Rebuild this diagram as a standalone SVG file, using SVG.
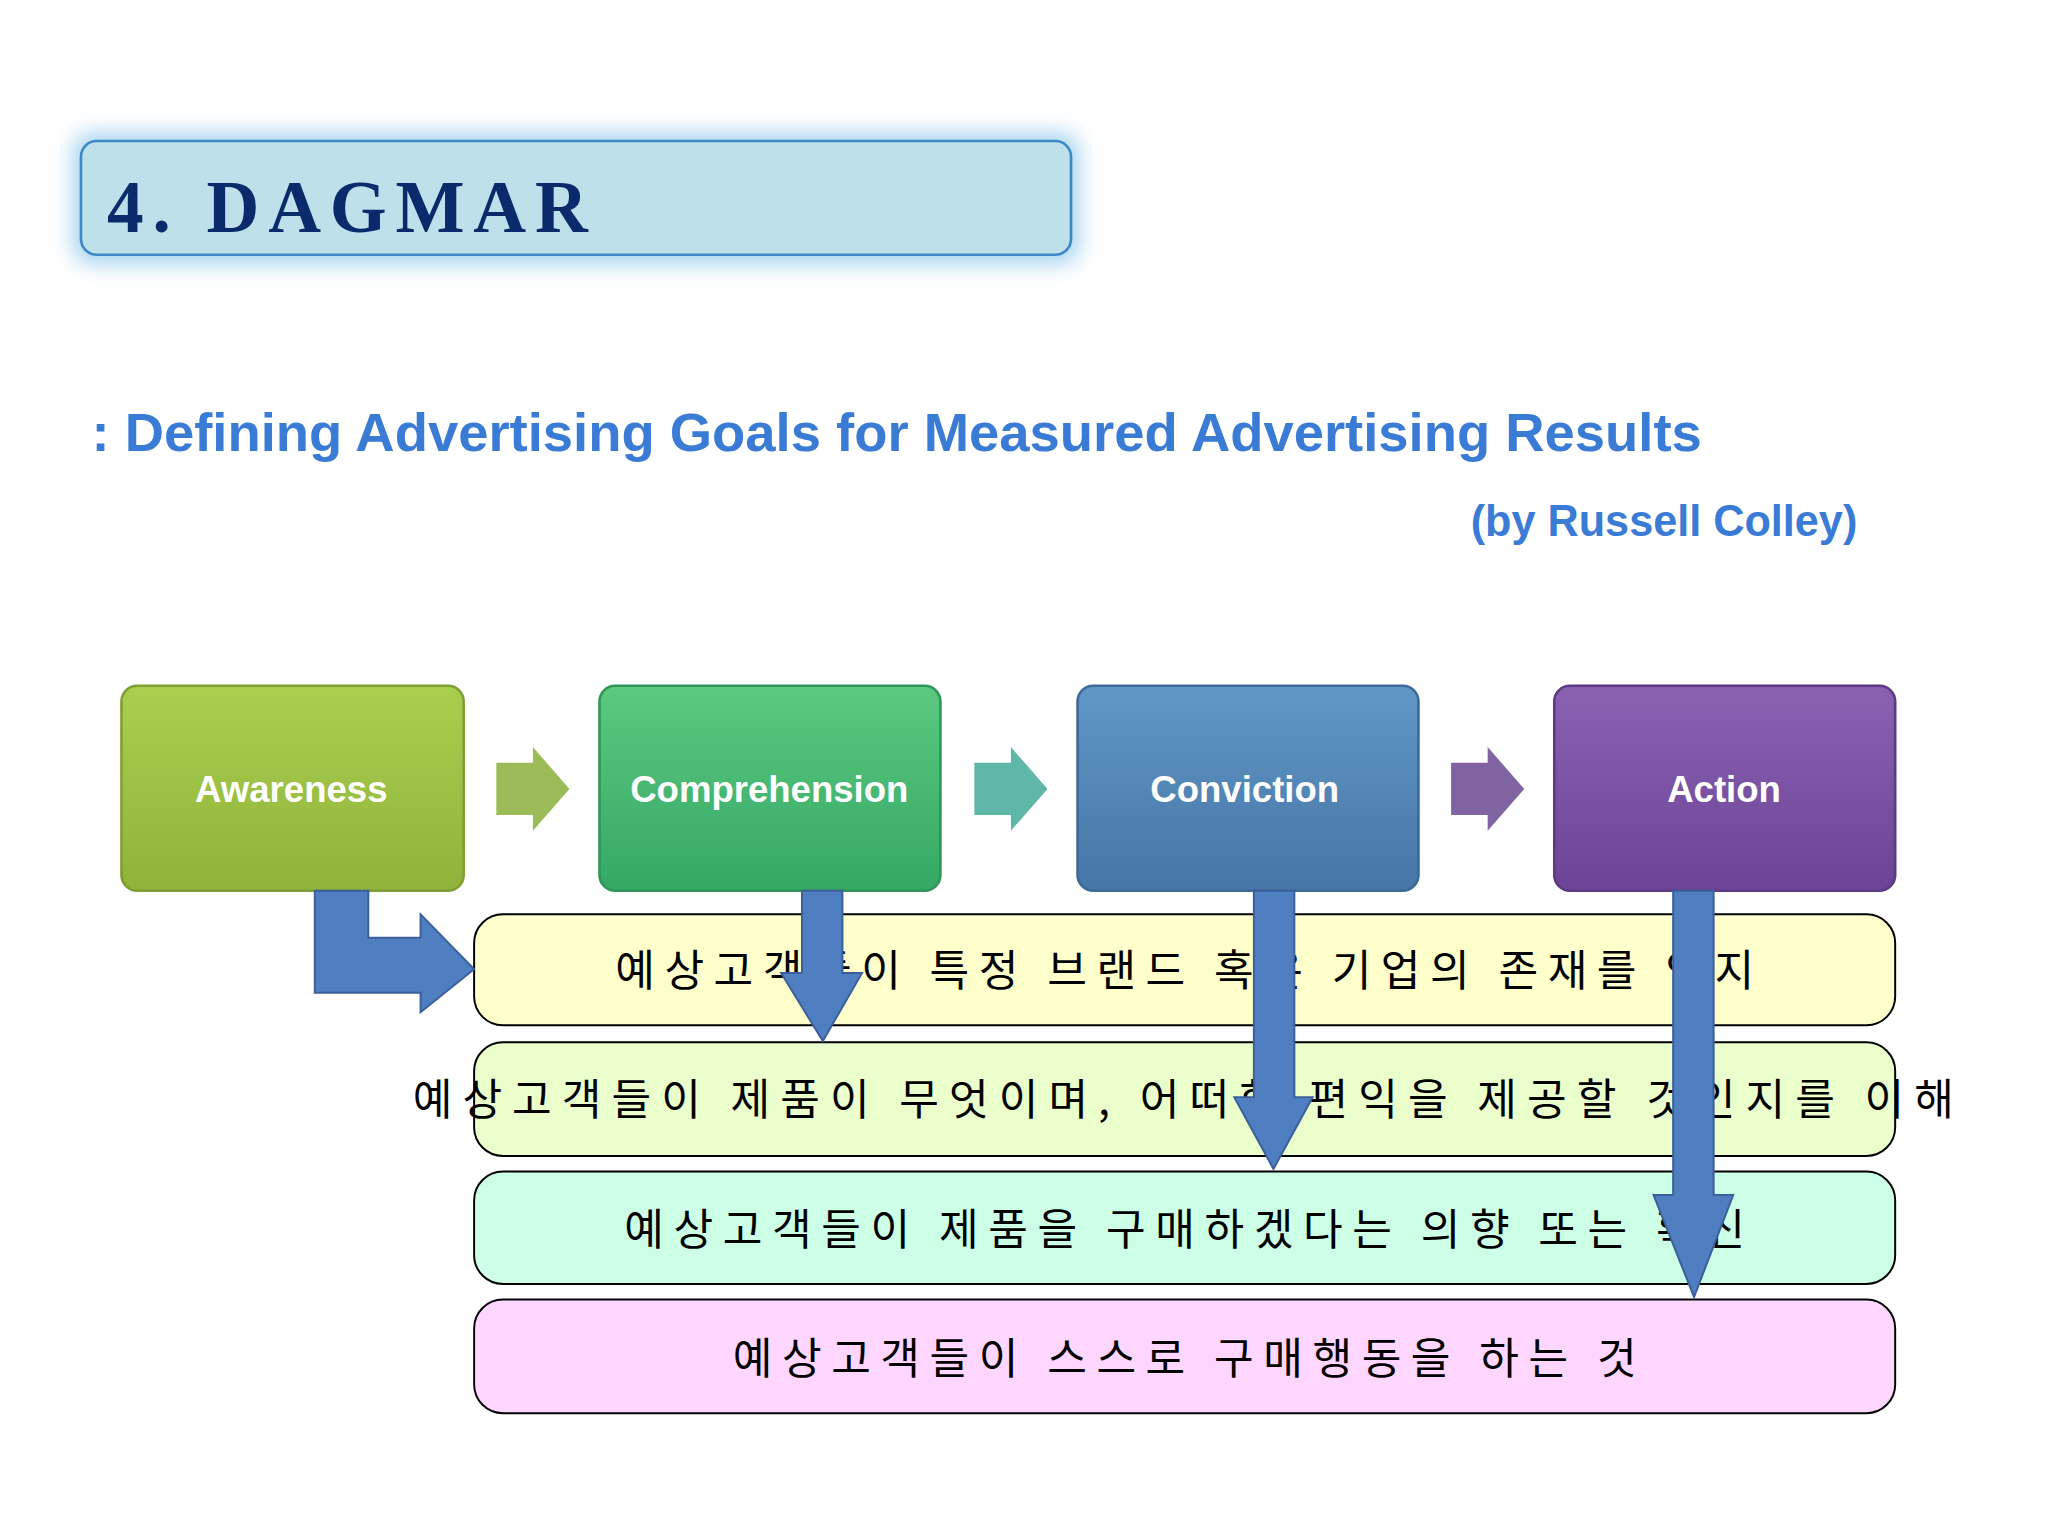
<svg xmlns="http://www.w3.org/2000/svg" width="2048" height="1536" viewBox="0 0 2048 1536">
<defs>
<filter id="glow" x="-10%" y="-30%" width="120%" height="160%"><feGaussianBlur stdDeviation="8"/></filter>
<linearGradient id="gA" x1="0" y1="0" x2="0" y2="1"><stop offset="0" stop-color="#a9cf4f"/><stop offset="1" stop-color="#8fb33a"/></linearGradient>
<linearGradient id="gC" x1="0" y1="0" x2="0" y2="1"><stop offset="0" stop-color="#5bc97f"/><stop offset="1" stop-color="#35a866"/></linearGradient>
<linearGradient id="gV" x1="0" y1="0" x2="0" y2="1"><stop offset="0" stop-color="#5f98c6"/><stop offset="1" stop-color="#4675a6"/></linearGradient>
<linearGradient id="gP" x1="0" y1="0" x2="0" y2="1"><stop offset="0" stop-color="#8a62b2"/><stop offset="1" stop-color="#6c4496"/></linearGradient>
</defs>
<style>
.box{stroke-width:2}
.lbl{font-family:"Liberation Sans",Arial,sans-serif;font-weight:bold;font-size:28px;fill:#fff;text-anchor:middle}
.band{stroke:#000;stroke-width:1.5}
.kt{font-family:"Noto Sans CJK KR",sans-serif;font-size:33px;fill:#000;text-anchor:middle}
.blue{fill:#4f7fc0;stroke:#3a5f9a;stroke-width:1.5}
</style>
<rect width="2048" height="1536" fill="#fff"/>
<g transform="scale(1.30612)">
<g id="title">
<rect x="56" y="102" width="770" height="100" rx="14" fill="#8cc8ea" filter="url(#glow)" opacity="0.8"/>
<rect x="62" y="108" width="758" height="87" rx="12" fill="#bde0ea" stroke="#3b87c8" stroke-width="2"/>
<text x="82" y="178" font-family="Liberation Serif,serif" font-weight="bold" font-size="56" fill="#0b2a6b" textLength="368">4. DAGMAR</text>
</g>
<g id="subtitle">
<text x="70" y="345" font-family="Liberation Sans,Arial,sans-serif" font-weight="bold" font-size="41" fill="#3a7bd5" textLength="1233" lengthAdjust="spacingAndGlyphs">: Defining Advertising Goals for Measured Advertising Results</text>
<text x="1422" y="410" font-family="Liberation Sans,Arial,sans-serif" font-weight="bold" font-size="34" fill="#3a7bd5" text-anchor="end" textLength="296" lengthAdjust="spacingAndGlyphs">(by Russell Colley)</text>
</g>
<g id="n-awareness"><rect class="box" x="93" y="525" width="262" height="157" rx="12" fill="url(#gA)" stroke="#7f9f35"/><text class="lbl" x="223" y="614">Awareness</text></g>
<g id="n-comprehension"><rect class="box" x="459" y="525" width="261" height="157" rx="12" fill="url(#gC)" stroke="#2f9658"/><text class="lbl" x="589" y="614">Comprehension</text></g>
<g id="n-conviction"><rect class="box" x="825" y="525" width="261" height="157" rx="12" fill="url(#gV)" stroke="#3d6a96"/><text class="lbl" x="953" y="614">Conviction</text></g>
<g id="n-action"><rect class="box" x="1190" y="525" width="261" height="157" rx="12" fill="url(#gP)" stroke="#5d3a84"/><text class="lbl" x="1320" y="614">Action</text></g>
<g id="b1"><rect class="band" x="363" y="700" width="1088" height="85" rx="22" fill="#ffffcc"/><text class="kt" x="907" y="755" textLength="872">예상고객들이 특정 브랜드 혹은 기업의 존재를 인지</text></g>
<g id="b2"><rect class="band" x="363" y="798" width="1088" height="87" rx="22" fill="#eaffcc"/><text class="kt" x="906" y="854" textLength="1180">예상고객들이 제품이 무엇이며, 어떠한 편익을 제공할 것인지를 이해</text></g>
<g id="b3"><rect class="band" x="363" y="897" width="1088" height="86" rx="22" fill="#ccffe6"/><text class="kt" x="907" y="953" textLength="858">예상고객들이 제품을 구매하겠다는 의향 또는 확신</text></g>
<g id="b4"><rect class="band" x="363" y="995" width="1088" height="87" rx="22" fill="#ffd6ff"/><text class="kt" x="907" y="1052" textLength="692">예상고객들이 스스로 구매행동을 하는 것</text></g>
<g id="connectors">
<path d="M380,584 H408 V572 L436,604 L408,636 V624 H380 Z" fill="#9bbb59"/>
<path d="M746,584 H774 V572 L802,604 L774,636 V624 H746 Z" fill="#5fb7a8"/>
<path d="M1111,584 H1139 V572 L1167,604 L1139,636 V624 H1111 Z" fill="#8064a2"/>
<path class="blue" d="M241,682 H282 V718 H322 V700 L363,742 L322,775 V760 H241 Z"/>
<path class="blue" d="M614,682 H645 V745 H660 L630,797 L598,745 H614 Z"/>
<path class="blue" d="M960,682 H991 V840 H1005 L975,895 L945,840 H960 Z"/>
<path class="blue" d="M1281,682 H1312 V915 H1327 L1297,993 L1266,915 H1281 Z"/>
</g>
</g>
</svg>
